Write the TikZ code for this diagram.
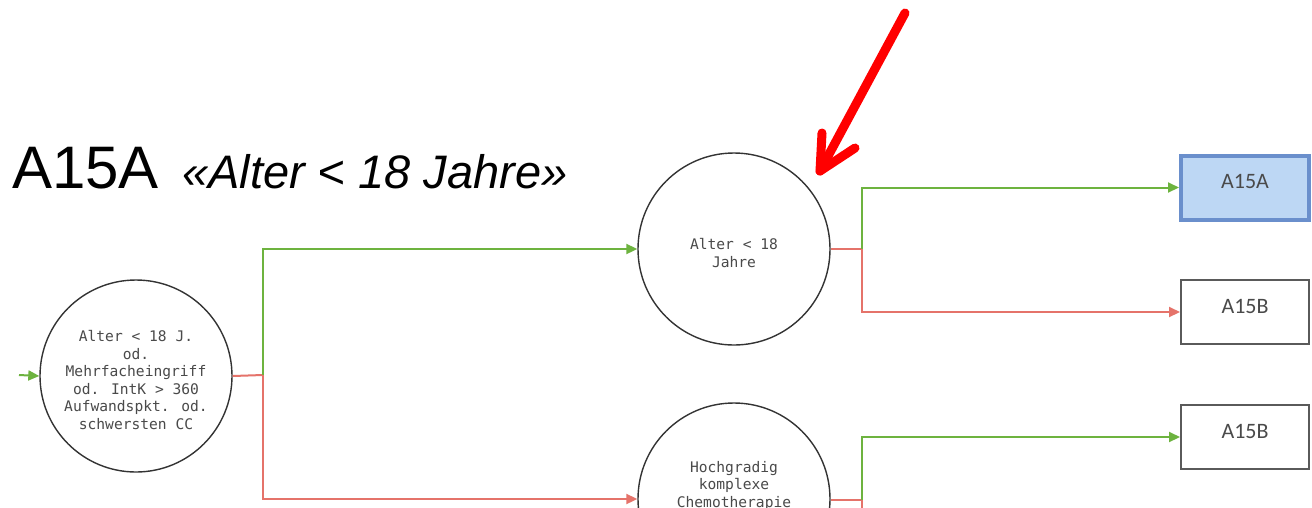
\documentclass[tikz,border=0pt]{standalone}
\usepackage{fontspec}
\setmainfont{Liberation Sans}
\newfontfamily\monofont{DejaVu Sans Mono}
\newfontfamily\boxfont{Carlito}
\usetikzlibrary{arrows.meta}
\definecolor{yesgreen}{HTML}{6DB33F}
\definecolor{nored}{HTML}{E5736A}
\definecolor{circgray}{HTML}{333333}
\definecolor{txtgray}{HTML}{4A4A4A}
\definecolor{boxgray}{HTML}{5A5A5A}
\definecolor{selfill}{HTML}{BDD7F4}
\definecolor{selborder}{HTML}{6A8FCC}
\newcommand{\monosize}{\monofont\fontsize{14.6}{17.6}\selectfont}
\newcommand{\ctext}[1]{\raisebox{0pt}[\dimexpr\height+12pt\relax][\depth]{\begin{tabular}{@{}c@{}}#1\end{tabular}}}
\newcommand{\btext}[1]{\raisebox{0pt}[\height][\dimexpr\depth+12pt\relax]{#1}}
\tikzset{
  decision/.style={circle, draw=circgray, line width=1.4pt, minimum size=192pt, inner sep=0pt,
    font=\monosize, text=txtgray, align=center},
  resultbox/.style={draw=boxgray, line width=2pt, minimum width=128pt, minimum height=64pt,
    inner sep=0pt, font=\boxfont\fontsize{22}{24}\selectfont, text=txtgray},
  selected/.style={resultbox, draw=selborder, fill=selfill, line width=4pt},
  yesline/.style={draw=yesgreen, line width=2pt},
  noline/.style={draw=nored, line width=2pt},
  tip/.style={-{Triangle[length=11pt,width=10pt]}},
  pointer/.style={draw=red, line width=9pt, line cap=round, line join=round}
}
\begin{document}
\begin{tikzpicture}[x=1pt,y=-1pt]
\useasboundingbox (0,0) rectangle (1312,507);
\clip (0,0) rectangle (1312,507);
\fill[white] (0,0) rectangle (1312,507);

% title
\node[anchor=base west, inner sep=0pt, font=\fontsize{60}{60}\selectfont] (title) at (12,188) {A15A};
\node[anchor=base west, inner sep=0pt, font=\itshape\fontsize{47}{47}\selectfont] (subtitle) at (182,188) {«Alter < 18 Jahre»};

% decisions
\node[decision] (c1) at (136,376) {\ctext{Alter < 18 J.\\od.\\Mehrfacheingriff\\od. IntK > 360\\Aufwandspkt. od.\\schwersten CC}};
\node[decision] (c2) at (734,249) {\ctext{Alter < 18\\Jahre}};
\node[decision] (c3) at (734,499) {};
\node[anchor=north, inner sep=0pt, font=\monosize, text=txtgray, align=center] (c3text) at (734,461) {Hochgradig\\komplexe\\Chemotherapie};

% results
\node[selected] (b1) at (1245,187.5) {\btext{A15A}};
\node[resultbox] (b2) at (1245,312) {\btext{A15B}};
\node[resultbox] (b3) at (1245,437) {\btext{A15B}};

% junctions
\coordinate (in1) at (19,375);
\coordinate (j1) at (263,375);
\coordinate (j2) at (862,249);
\coordinate (j3) at (862,500);
\coordinate (j3out) at (862,530);

% connectors
\draw[yesline, tip] (in1) -- (c1.west);
\draw[noline] (c1.east) -- (j1);
\draw[yesline, tip] (j1) |- (c2.west);
\draw[noline, tip] (j1) |- (c3.west);

\draw[noline] (c2.east) -- (j2);
\draw[yesline, tip] (j2) |- (b1.west);
\draw[noline, tip] (j2) |- (b2.west);

\draw[noline] (c3.east |- j3) -- (j3) -- (j3out);
\draw[yesline, tip] (j3) |- (b3.west);

% red pointer
\coordinate (ptail) at (905,13);
\coordinate (ptip) at (820,171);
\coordinate (pbarbA) at (822,133);
\coordinate (pbarbB) at (855,148);
\draw[pointer] (ptail) -- (ptip);
\draw[pointer] (pbarbA) -- (ptip) -- (pbarbB);
\end{tikzpicture}
\end{document}
